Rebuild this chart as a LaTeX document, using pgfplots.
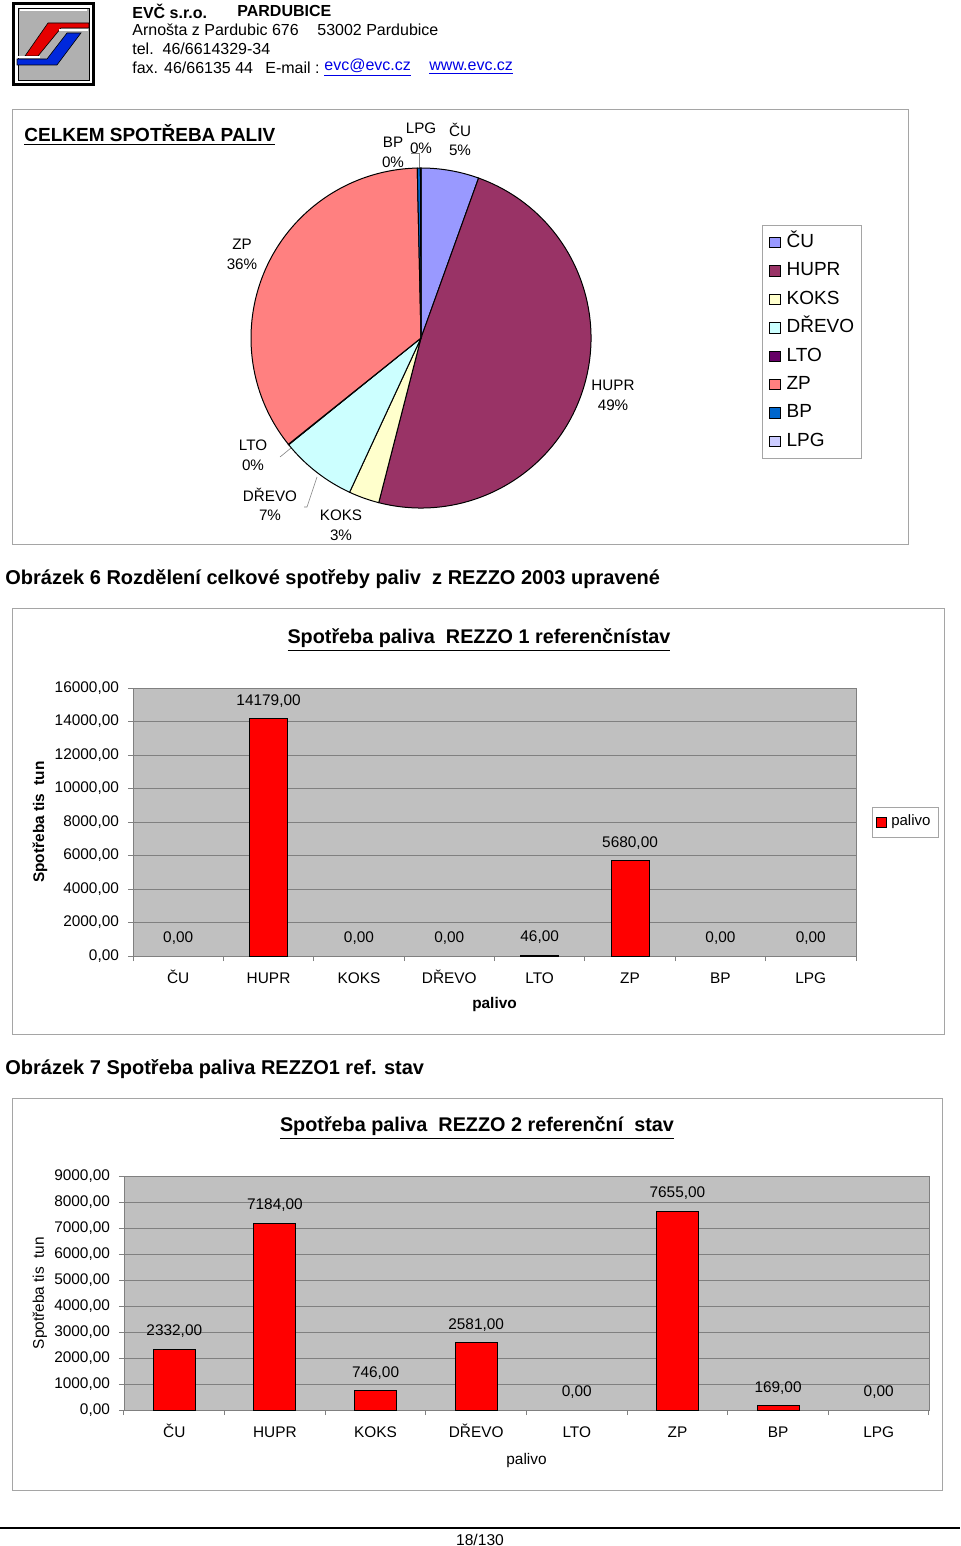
\documentclass[border=0pt]{standalone}
\usepackage{fontspec}
\setmainfont{Liberation Sans}
\usepackage{pgfplots}
\pgfplotsset{compat=1.18}
\definecolor{plotbg}{RGB}{192,192,192}
\definecolor{gridc}{RGB}{128,128,128}
\definecolor{framec}{RGB}{165,165,165}
\definecolor{cCU}{RGB}{153,153,255}
\definecolor{cHUPR}{RGB}{153,51,102}
\definecolor{cKOKS}{RGB}{255,255,204}
\definecolor{cDREVO}{RGB}{204,255,255}
\definecolor{cLTO}{RGB}{102,0,102}
\definecolor{cZP}{RGB}{255,128,128}
\definecolor{cBP}{RGB}{0,102,204}
\definecolor{cLPG}{RGB}{204,204,255}
\definecolor{linkblue}{RGB}{0,0,230}
\definecolor{logogray}{RGB}{176,176,176}
\definecolor{logored}{RGB}{230,0,0}
\definecolor{logoblue}{RGB}{0,40,220}
\newcommand\fs{\fontsize{7.7}{9}\selectfont}
\pgfkeys{/pgf/number format/.cd, fixed, fixed zerofill, precision=2, use comma, 1000 sep={}, assume math mode=true}
\pgfplotsset{
  barchart/.style={
    scale only axis,
    xmin=-0.5, xmax=7.5, ymin=0,
    axis background/.style={fill=plotbg},
    axis line style={gridc},
    ymajorgrids, major grid style={gridc, line width=0.5pt},
    xtick={-0.5,0.5,...,7.5},
    xticklabels={{},{},{},{},{},{},{},{},{}},
    extra x ticks={0,1,2,3,4,5,6,7},
    extra x tick labels={ČU,HUPR,KOKS,DŘEVO,LTO,ZP,BP,LPG},
    extra x tick style={major tick length=0pt,
      xticklabel style={yshift=-4pt, text height=6pt, text depth=1.5pt}},
    major tick length=2.5pt,
    tick align=outside,
    tick pos=left,
    tick style={gridc, line width=0.5pt},
    scaled y ticks=false,
    ybar, bar shift=0pt,
    nodes near coords,
    every node near coord/.append style={font=\fs, anchor=south, inner sep=0pt, yshift=5.5pt, text=black},
    ticklabel style={font=\fs, text=black},
    yticklabel style={xshift=-1pt},
    label style={font=\fs},
  }
}
\begin{document}
\begin{tikzpicture}
\useasboundingbox (0,0) rectangle (480pt,-773pt);
\begin{scope}[x=0.5pt,y=-0.5pt]
% ---------- header / logo ----------
\fill[white] (0,0) rectangle (960,1546);
\draw[line width=1.5pt] (13.5,3.5) rectangle (93.5,84.5);
\filldraw[fill=logogray, draw=black, line width=0.4pt] (18,8) rectangle (89,80);
\draw[white, line width=0.8pt] (20,10) -- (87,10);
\filldraw[fill=logored, draw=black, line width=0.3pt] (48,23) -- (89,23) -- (89,28) -- (61,28) -- (38,56) -- (25,56) -- cycle;
\filldraw[fill=logoblue, draw=black, line width=0.3pt] (67,33) -- (81,33) -- (57,65) -- (17,65) -- (17,59) -- (47,59) -- cycle;
\draw[white, line width=0.6pt] (59,30) -- (88,30);
\draw[white, line width=0.6pt] (17,57) -- (40,57);
\begin{scope}[every node/.style={font=\fontsize{8}{9.6}\selectfont, anchor=west, inner sep=0pt}]
\node at (132,11) {\textbf{EVČ s.r.o.}};
\node at (237,11) {\textbf{PARDUBICE}};
\node at (132,30) {Arnošta z Pardubic 676};
\node at (317,30) {53002 Pardubice};
\node at (132,49) {tel.\ \ 46/6614329-34};
\node at (132,68) {fax. 46/66135 44};
\node at (265,68) {E-mail :};
\node[text=linkblue] at (324,68) {\underline{evc@evc.cz}};
\node[text=linkblue] at (429,68) {\underline{www.evc.cz}};
\end{scope}
% ---------- frames ----------
\draw[framec, line width=0.5pt] (12,110) rectangle (908,544);
\draw[framec, line width=0.5pt] (12,608) rectangle (944,1034);
\draw[framec, line width=0.5pt] (12,1098) rectangle (942,1490);
% ---------- titles / captions ----------
\node[anchor=west, inner sep=0pt, font=\fontsize{9.5}{11}\selectfont] at (24,135) {\textbf{\underline{CELKEM SPOTŘEBA PALIV}}};
\node[anchor=west, inner sep=0pt, font=\fontsize{10}{12}\selectfont] at (5,579) {\textbf{Obrázek 6 Rozdělení celkové spotřeby paliv\ \ z REZZO 2003 upravené}};
\node[anchor=west, inner sep=0pt, font=\fontsize{10}{12}\selectfont] at (5,1069) {\textbf{Obrázek 7 Spotřeba paliva REZZO1 ref. stav}};
\node[inner sep=0pt, font=\fontsize{9.9}{12}\selectfont] at (479,640) {\textbf{\underline{Spotřeba paliva\ \ REZZO 1 referenčnístav}}};
\node[inner sep=0pt, font=\fontsize{9.9}{12}\selectfont] at (477,1128) {\textbf{\underline{Spotřeba paliva\ \ REZZO 2 referenční\ \ stav}}};
% ---------- pie labels ----------
\begin{scope}[every node/.style={font=\fontsize{7.6}{9}\selectfont, inner sep=0pt}]
\node at (393,142) {BP}; \node at (393,162) {0\%};
\node at (421,128) {LPG}; \node at (421,148) {0\%};
\node at (460,130) {ČU}; \node at (460,150) {5\%};
\node at (242,244) {ZP}; \node at (242,264) {36\%};
\node at (613,385) {HUPR}; \node at (613,405) {49\%};
\node at (253,445) {LTO}; \node at (253,465) {0\%};
\node at (270,495) {DŘEVO}; \node at (270,515) {7\%};
\node at (341,515) {KOKS}; \node at (341,535) {3\%};
\end{scope}
\draw[gray, line width=0.3pt] (411,153) -- (419,153) -- (419,168);
\draw[gray, line width=0.3pt] (280,457) -- (291,448);
\draw[gray, line width=0.3pt] (304,507) -- (307,507) -- (317,477);
% ---------- footer ----------
\draw[line width=1pt] (0,1528) -- (960,1528);
\node[inner sep=0pt, font=\fontsize{7.8}{9}\selectfont] at (480,1540) {18/130};
\end{scope}

% ---------- pie chart ----------
\begin{axis}[at={(210.5pt,-169pt)}, anchor=center, scale only axis,
  width=170pt, height=170pt, xmin=-1, xmax=1, ymin=-1, ymax=1,
  hide axis, clip=false,
  legend style={at={(axis description cs:1.503,0.832)}, anchor=north west, draw=framec,
    font=\fontsize{9.5}{10}\selectfont, row sep=5.2pt, inner xsep=3.5pt, inner ysep=4pt,
    nodes={inner xsep=0pt, inner ysep=0pt, text height=7pt, text depth=2pt},
    /tikz/every odd column/.append style={column sep=3pt}},
  legend cell align=left,
  legend image code/.code={\draw[#1] (0pt,-2.6pt) rectangle (5.2pt,2.6pt);},
]
\pgfplotsextra{%
  \gdef\cum{90}%
  \foreach \v/\c in {5.5/cCU,48.5/cHUPR,2.9/cKOKS,7.3/cDREVO,0.05/cLTO,35.4/cZP,0.3/cBP,0.05/cLPG}{%
    \pgfmathsetmacro\e{\cum-3.6*\v}%
    \filldraw[fill=\c, draw=black, line width=0.5pt] (axis cs:0,0) -- ++(\cum:85pt) arc[start angle=\cum, end angle=\e, radius=85pt] -- cycle;%
    \xdef\cum{\e}%
  }%
}
\addlegendimage{fill=cCU, draw=black} \addlegendentry{ČU}
\addlegendimage{fill=cHUPR, draw=black} \addlegendentry{HUPR}
\addlegendimage{fill=cKOKS, draw=black} \addlegendentry{KOKS}
\addlegendimage{fill=cDREVO, draw=black} \addlegendentry{DŘEVO}
\addlegendimage{fill=cLTO, draw=black} \addlegendentry{LTO}
\addlegendimage{fill=cZP, draw=black} \addlegendentry{ZP}
\addlegendimage{fill=cBP, draw=black} \addlegendentry{BP}
\addlegendimage{fill=cLPG, draw=black} \addlegendentry{LPG}
\end{axis}

% ---------- REZZO 1 ----------
\begin{axis}[barchart, at={(66.5pt,-478pt)}, anchor=south west,
  width=361.5pt, height=134pt,
  ymax=16000, ytick={0,2000,...,16000}, bar width=19pt,
  xlabel={\textbf{palivo}}, ylabel={\textbf{Spotřeba tis\ \ tun}},
  xlabel style={at={(axis description cs:0.5,0)}, anchor=center, yshift=-24.5pt},
  ylabel style={at={(axis description cs:-0.1286,0.5)}, anchor=center},
  legend style={at={(axis description cs:1.022,0.5)}, anchor=west, draw=framec,
    font=\fontsize{7.5}{9}\selectfont, inner sep=2pt},
  legend image code/.code={\draw[#1] (0pt,-2.5pt) rectangle (5pt,2.5pt);},
]
% bars with a value above zero
\addplot[fill=red, draw=black, line width=0.5pt] coordinates {(1,14179) (4,46) (5,5680)};
\addlegendentry{palivo}
% categories with value 0 (label only, no visible bar)
\addplot[draw=none, fill=none, forget plot] coordinates {(0,0) (2,0) (3,0) (6,0) (7,0)};
\end{axis}

% ---------- REZZO 2 ----------
\begin{axis}[barchart, at={(62pt,-705pt)}, anchor=south west,
  width=402.5pt, height=117pt,
  ymax=9000, ytick={0,1000,...,9000}, bar width=21pt,
  xlabel={palivo}, ylabel={Spotřeba tis\ \ tun},
  xlabel style={at={(axis description cs:0.5,0)}, anchor=center, yshift=-25pt},
  ylabel style={at={(axis description cs:-0.1044,0.5)}, anchor=center},
]
\addplot[fill=red, draw=black, line width=0.5pt] coordinates {(0,2332) (1,7184) (2,746) (3,2581) (5,7655) (6,169)};
\addplot[draw=none, fill=none, forget plot] coordinates {(4,0) (7,0)};
\end{axis}
\end{tikzpicture}
\end{document}
